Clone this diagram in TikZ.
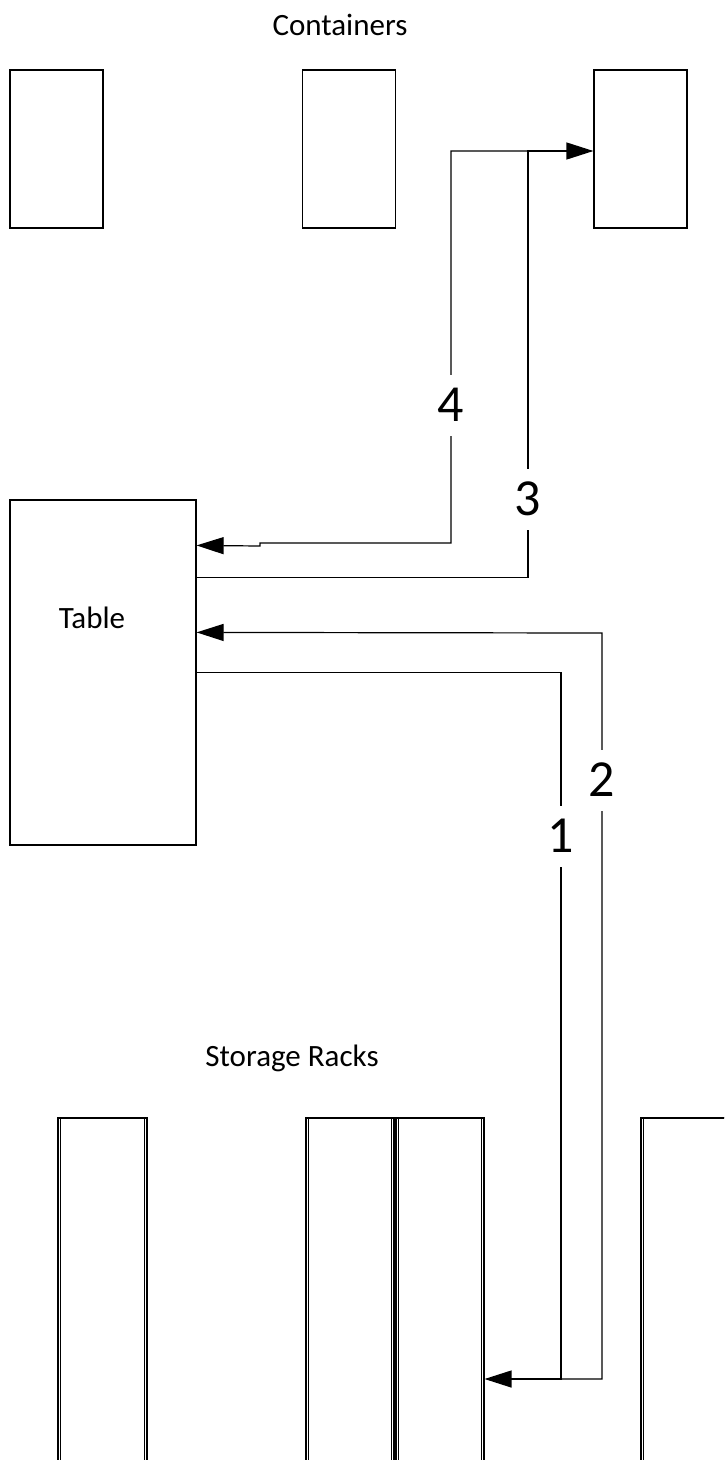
\documentclass[tikz,border=0pt]{standalone}
\usepackage{fontspec}
\setmainfont{Carlito}
\usetikzlibrary{arrows.meta,calc}
\begin{document}
\begin{tikzpicture}[x=1pt,y=-1pt,
  box/.style={draw,rectangle,inner sep=0pt,line width=1.2pt},
  container/.style={box,minimum width=93pt,minimum height=158pt},
  rack/.style={draw,rectangle,inner sep=0pt,line width=1.1pt,minimum height=440pt},
  rackinner/.style={line width=1.1pt},
  flow/.style={line width=1.2pt},
  tip/.style={-{Triangle[length=27pt,width=17pt]}},
  caption/.style={font=\fontsize{31}{36}\selectfont},
  steplabel/.style={fill=white,inner sep=0pt,minimum height=61pt,font=\fontsize{52}{60}\selectfont}]
\useasboundingbox (0,0) rectangle (724,1460);
\clip (0,0) rectangle (724,1460);

% containers
\node[caption] (hc) at (340,25) {Containers};
\node[container] (c1) at (56.5,149) {};
\node[container] (c2) at (349,149) {};
\node[container] (c3) at (640.5,149) {};

% table
\node[box,minimum width=186pt,minimum height=345pt] (table) at (103,672.5) {};
\node[caption] (tl) at (92,618) {Table};

% storage racks (open at the bottom, double walls)
\node[caption] (hr) at (292,1058) {Storage Racks};
\node[rack,minimum width=89pt] (r1) at (102.5,1338) {};
\node[rack,minimum width=88pt] (r2) at (350,1338) {};
\node[rack,minimum width=88pt] (r3) at (440,1338) {};
\node[rack,minimum width=89pt] (r4) at (685.5,1338) {};
\foreach \r in {r1,r2,r3,r4}
  \draw[rackinner] ([xshift=3pt]\r.north west) rectangle ([xshift=-3pt]\r.south east);

% routes
\coordinate (j3) at (528,151);
\coordinate (j1) at (561,1379);
\draw[flow,tip] ($(table.north east)+(0,78)$) -| (j3) -- (c3.west |- j3);
\draw[flow,tip] (j3) -- (451,151) -- (451,543) -- (260,543) -- (260,546) -- ($(table.north east)+(0,46)$);
\draw[flow,tip] ($(table.north east)+(0,173)$) -| (j1) -- (r3.east |- j1);
\draw[flow,tip] (j1) -- (602,1379) -- (602,633) -- ($(table.north east)+(0,133)$);

% step numbers
\node[steplabel] (l4) at (451,405) {4};
\node[steplabel] (l3) at (528,499) {3};
\node[steplabel] (l2) at (602,780) {2};
\node[steplabel] (l1) at (561,836) {1};
\end{tikzpicture}
\end{document}
